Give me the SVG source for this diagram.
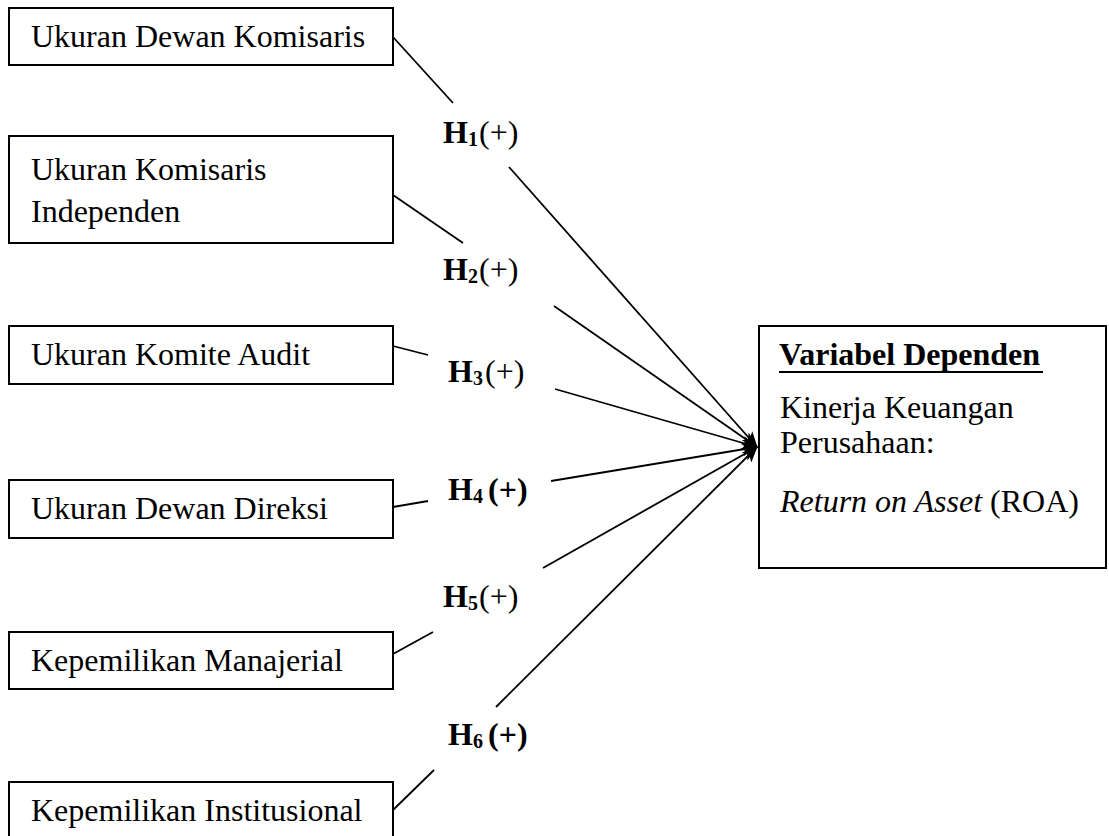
<svg xmlns="http://www.w3.org/2000/svg" width="1109" height="836" viewBox="0 0 1109 836">
<style>
.box{fill:#fff;stroke:#000;stroke-width:2}
.t{font-family:"Liberation Serif","Times New Roman",serif;font-size:32px;fill:#000}
.h{font-family:"Liberation Serif","Times New Roman",serif;font-size:32px;font-weight:bold;fill:#000}
.sub{font-size:20px}
.ln{stroke:#000;stroke-width:1.8;fill:none}
</style>
<defs>
<marker id="ah" markerUnits="userSpaceOnUse" markerWidth="16" markerHeight="14" viewBox="0 0 16 14" refX="15" refY="7" orient="auto">
<path d="M0,0 L16,7 L0,14 L4,7 z" fill="#000"/>
</marker>
</defs>
<rect width="1109" height="836" fill="#fff"/>
<g id="connectors">
<line class="ln" x1="393" y1="37" x2="453" y2="103"/>
<line class="ln" x1="509" y1="167" x2="757" y2="447" marker-end="url(#ah)"/>
<line class="ln" x1="393" y1="195" x2="463" y2="243"/>
<line class="ln" x1="554" y1="306" x2="757" y2="447" marker-end="url(#ah)"/>
<line class="ln" x1="393" y1="346" x2="428" y2="355"/>
<line class="ln" x1="555" y1="389" x2="757" y2="447" marker-end="url(#ah)"/>
<line class="ln" x1="393" y1="507" x2="428" y2="501"/>
<line class="ln" x1="551" y1="481" x2="757" y2="447" marker-end="url(#ah)"/>
<line class="ln" x1="393" y1="654" x2="433" y2="632"/>
<line class="ln" x1="543" y1="568" x2="757" y2="447" marker-end="url(#ah)"/>
<line class="ln" x1="393" y1="810" x2="434" y2="770"/>
<line class="ln" x1="496" y1="707" x2="757" y2="447" marker-end="url(#ah)"/>
<text class="h" x="443" y="143">H<tspan class="sub" dy="3">1</tspan><tspan x="479" y="143" font-weight="normal">(+)</tspan></text>
<text class="h" x="443" y="280">H<tspan class="sub" dy="3">2</tspan><tspan x="479" y="280" font-weight="normal">(+)</tspan></text>
<text class="h" x="448" y="382">H<tspan class="sub" dy="3">3</tspan><tspan x="485" y="382" font-weight="normal">(+)</tspan></text>
<text class="h" x="448" y="500">H<tspan class="sub" dy="3">4</tspan><tspan x="488" y="500">(+)</tspan></text>
<text class="h" x="443" y="607">H<tspan class="sub" dy="3">5</tspan><tspan x="479" y="607" font-weight="normal">(+)</tspan></text>
<text class="h" x="448" y="745">H<tspan class="sub" dy="3">6</tspan><tspan x="488" y="745">(+)</tspan></text>
</g>
<g id="n1"><rect class="box" x="9" y="8" width="384" height="57"/><text class="t" x="31" y="47">Ukuran Dewan Komisaris</text></g>
<g id="n2"><rect class="box" x="9" y="136" width="384" height="107"/><text class="t" x="31" y="180">Ukuran Komisaris</text><text class="t" x="31" y="222">Independen</text></g>
<g id="n3"><rect class="box" x="9" y="326" width="384" height="58"/><text class="t" x="31" y="365">Ukuran Komite Audit</text></g>
<g id="n4"><rect class="box" x="9" y="480" width="384" height="58"/><text class="t" x="31" y="519">Ukuran Dewan Direksi</text></g>
<g id="n5"><rect class="box" x="9" y="632" width="384" height="57"/><text class="t" x="31" y="671">Kepemilikan Manajerial</text></g>
<g id="n6"><rect class="box" x="9" y="782" width="384" height="60"/><text class="t" x="31" y="821">Kepemilikan Institusional</text></g>
<g id="dep"><rect class="box" x="759" y="326" width="347" height="242"/>
<text class="h" x="779" y="365">Variabel Dependen</text>
<line x1="779" y1="372" x2="1043" y2="372" stroke="#000" stroke-width="2"/>
<text class="t" x="780" y="418">Kinerja Keuangan</text>
<text class="t" x="780" y="453">Perusahaan:</text>
<text class="t" x="780" y="512"><tspan font-style="italic">Return on Asset</tspan> (ROA)</text>
</g>
</svg>
